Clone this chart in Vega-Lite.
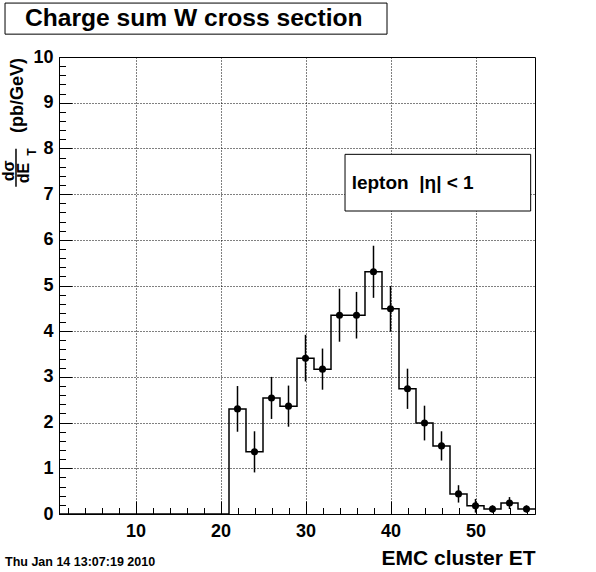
{
  "$schema": "https://vega.github.io/schema/vega-lite/v6.json",
  "width": 476,
  "height": 457,
  "autosize": {"type": "none"},
  "padding": {"left": 59, "top": 57, "right": 61, "bottom": 58},
  "background": "white",
  "config": {"view": {"stroke": "black", "strokeWidth": 1}, "font": "Liberation Sans"},
  "datasets": {
    "hist": [
      {"e": 2, "lo": 1, "hi": 3, "y": 0, "err": 0},
      {"e": 4, "lo": 3, "hi": 5, "y": 0, "err": 0},
      {"e": 6, "lo": 5, "hi": 7, "y": 0, "err": 0},
      {"e": 8, "lo": 7, "hi": 9, "y": 0, "err": 0},
      {"e": 10, "lo": 9, "hi": 11, "y": 0, "err": 0},
      {"e": 12, "lo": 11, "hi": 13, "y": 0, "err": 0},
      {"e": 14, "lo": 13, "hi": 15, "y": 0, "err": 0},
      {"e": 16, "lo": 15, "hi": 17, "y": 0, "err": 0},
      {"e": 18, "lo": 17, "hi": 19, "y": 0, "err": 0},
      {"e": 20, "lo": 19, "hi": 21, "y": 0, "err": 0},
      {"e": 22, "lo": 21, "hi": 23, "y": 2.30, "err": 0.50},
      {"e": 24, "lo": 23, "hi": 25, "y": 1.36, "err": 0.45},
      {"e": 26, "lo": 25, "hi": 27, "y": 2.54, "err": 0.46},
      {"e": 28, "lo": 27, "hi": 29, "y": 2.36, "err": 0.45},
      {"e": 30, "lo": 29, "hi": 31, "y": 3.41, "err": 0.51},
      {"e": 32, "lo": 31, "hi": 33, "y": 3.17, "err": 0.45},
      {"e": 34, "lo": 33, "hi": 35, "y": 4.35, "err": 0.58},
      {"e": 36, "lo": 35, "hi": 37, "y": 4.35, "err": 0.51},
      {"e": 38, "lo": 37, "hi": 39, "y": 5.30, "err": 0.57},
      {"e": 40, "lo": 39, "hi": 41, "y": 4.49, "err": 0.50},
      {"e": 42, "lo": 41, "hi": 43, "y": 2.74, "err": 0.44},
      {"e": 44, "lo": 43, "hi": 45, "y": 1.99, "err": 0.38},
      {"e": 46, "lo": 45, "hi": 47, "y": 1.49, "err": 0.32},
      {"e": 48, "lo": 47, "hi": 49, "y": 0.44, "err": 0.19},
      {"e": 50, "lo": 49, "hi": 51, "y": 0.18, "err": 0.15},
      {"e": 52, "lo": 51, "hi": 53, "y": 0.11, "err": 0.08},
      {"e": 54, "lo": 53, "hi": 55, "y": 0.24, "err": 0.13},
      {"e": 56, "lo": 55, "hi": 57, "y": 0.11, "err": 0.08}
    ]
  },
  "layer": [
    {
      "data": {"name": "hist"},
      "transform": [{"fold": ["lo", "hi"], "as": ["side", "edge"]}],
      "mark": {"type": "line", "color": "black", "strokeWidth": 1.5, "interpolate": "linear"},
      "encoding": {
        "x": {
          "field": "edge", "type": "quantitative", "title": "EMC cluster ET",
          "scale": {"domain": [1, 57], "nice": false, "zero": false},
          "axis": {
            "title": "EMC cluster ET",
            "titleFont": "Liberation Sans", "titleFontWeight": "bold", "titleFontSize": 21, "titleColor": "black",
            "titleAnchor": "end", "titleAlign": "right", "titleBaseline": "alphabetic", "titleY": 50,
            "values": [2,4,6,8,10,12,14,16,18,20,22,24,26,28,30,32,34,36,38,40,42,44,46,48,50,52,54,56],
            "tickCount": 500,
            "labelExpr": "datum.value % 10 === 0 ? format(datum.value, 'd') : ''",
            "tickSize": {"condition": {"test": "datum.value % 10 === 0", "value": -13}, "value": -6.5},
            "gridOpacity": {"condition": {"test": "datum.value % 10 === 0", "value": 1}, "value": 0},
            "grid": true, "gridColor": "black", "gridDash": [1, 2], "gridWidth": 1,
            "domainColor": "black", "tickColor": "black", "tickWidth": 1,
            "labelColor": "black", "labelFont": "Liberation Sans", "labelFontWeight": "bold", "labelFontSize": 18,
            "labelPadding": 21, "labelFlush": false, "labelOverlap": false, "labelBound": false, "zindex": 0
          }
        },
        "y": {
          "field": "y", "type": "quantitative", "title": null,
          "scale": {"domain": [0, 10], "nice": false, "zero": true},
          "axis": {
            "title": null,
            "values": [0,0.2,0.4,0.6,0.8,1,1.2,1.4,1.6,1.8,2,2.2,2.4,2.6,2.8,3,3.2,3.4,3.6,3.8,4,4.2,4.4,4.6,4.8,5,5.2,5.4,5.6,5.8,6,6.2,6.4,6.6,6.8,7,7.2,7.4,7.6,7.8,8,8.2,8.4,8.6,8.8,9,9.2,9.4,9.6,9.8,10],
            "tickCount": 500,
            "labelExpr": "abs(datum.value - round(datum.value)) < 0.001 ? format(datum.value, 'd') : ''",
            "tickSize": {"condition": {"test": "abs(datum.value - round(datum.value)) < 0.001", "value": -13}, "value": -6.5},
            "gridOpacity": {"condition": {"test": "abs(datum.value - round(datum.value)) < 0.001", "value": 1}, "value": 0},
            "grid": true, "gridColor": "black", "gridDash": [1, 2], "gridWidth": 1,
            "domainColor": "black", "tickColor": "black", "tickWidth": 1,
            "labelColor": "black", "labelFont": "Liberation Sans", "labelFontWeight": "bold", "labelFontSize": 18,
            "labelPadding": 19, "labelFlush": false, "labelOverlap": false, "labelBound": false, "zindex": 0
          }
        },
        "order": [
          {"field": "e", "type": "quantitative"},
          {"field": "side", "type": "nominal", "sort": "descending"}
        ]
      }
    },
    {
      "data": {"name": "hist"},
      "transform": [{"filter": "datum.y > 0"}],
      "mark": {"type": "errorbar", "color": "black", "thickness": 1.5},
      "encoding": {
        "x": {"field": "e", "type": "quantitative", "title": "EMC cluster ET"},
        "y": {"field": "y", "type": "quantitative", "title": null},
        "yError": {"field": "err"}
      }
    },
    {
      "data": {"name": "hist"},
      "transform": [{"filter": "datum.y > 0"}],
      "mark": {"type": "point", "shape": "circle", "filled": true, "size": 50, "color": "black", "opacity": 1},
      "encoding": {
        "x": {"field": "e", "type": "quantitative", "title": "EMC cluster ET"},
        "y": {"field": "y", "type": "quantitative", "title": null}
      }
    },
    {
      "data": {"values": [{"label": "lepton  |η| < 1"}]},
      "mark": {"type": "rect", "fill": "white", "stroke": "black", "strokeWidth": 1},
      "encoding": {
        "x": {"datum": 34.65, "type": "quantitative", "title": "EMC cluster ET"},
        "x2": {"datum": 56.49},
        "y": {"datum": 7.87, "type": "quantitative", "title": null},
        "y2": {"datum": 6.63}
      }
    },
    {
      "data": {"values": [{"label": "lepton\u00a0\u00a0|η|\u00a0<\u00a01"}]},
      "mark": {"type": "text", "align": "left", "baseline": "middle", "font": "Liberation Sans", "fontWeight": "bold", "fontSize": 19, "color": "black"},
      "encoding": {
        "x": {"datum": 35.43, "type": "quantitative", "title": "EMC cluster ET"},
        "y": {"datum": 7.24, "type": "quantitative", "title": null},
        "text": {"field": "label"}
      }
    },
    {
      "data": {"values": [{"label": "Charge sum W cross section"}]},
      "mark": {"type": "rect", "fill": "white", "stroke": "black", "strokeWidth": 1},
      "encoding": {
        "x": {"datum": -5.35, "type": "quantitative", "title": "EMC cluster ET"},
        "x2": {"datum": 39.59},
        "y": {"datum": 11.18, "type": "quantitative", "title": null},
        "y2": {"datum": 10.50}
      }
    },
    {
      "data": {"values": [{"label": "Charge sum W cross section"}]},
      "mark": {"type": "text", "align": "left", "baseline": "middle", "font": "Liberation Sans", "fontWeight": "bold", "fontSize": 24.6, "color": "black"},
      "encoding": {
        "x": {"datum": -3.0, "type": "quantitative", "title": "EMC cluster ET"},
        "y": {"datum": 10.84, "type": "quantitative", "title": null},
        "text": {"field": "label"}
      }
    },
    {
      "data": {"values": [{"label": "Thu Jan 14 13:07:19 2010"}]},
      "mark": {"type": "text", "align": "left", "baseline": "middle", "font": "Liberation Sans", "fontWeight": "bold", "fontSize": 12.5, "color": "black"},
      "encoding": {
        "x": {"datum": -5.35, "type": "quantitative", "title": "EMC cluster ET"},
        "y": {"datum": -1.05, "type": "quantitative", "title": null},
        "text": {"field": "label"}
      }
    },
    {
      "data": {"values": [{"label": "(pb/GeV)"}]},
      "mark": {"type": "text", "align": "center", "baseline": "middle", "angle": 270, "font": "Liberation Sans", "fontWeight": "bold", "fontSize": 18, "color": "black"},
      "encoding": {
        "x": {"datum": -3.88, "type": "quantitative", "title": "EMC cluster ET"},
        "y": {"datum": 9.16, "type": "quantitative", "title": null},
        "text": {"field": "label"}
      }
    },
    {
      "data": {"values": [{"label": "dσ"}]},
      "mark": {"type": "text", "align": "center", "baseline": "middle", "angle": 270, "font": "Liberation Sans", "fontWeight": "bold", "fontSize": 16, "color": "black"},
      "encoding": {
        "x": {"datum": -4.88, "type": "quantitative", "title": "EMC cluster ET"},
        "y": {"datum": 7.51, "type": "quantitative", "title": null},
        "text": {"field": "label"}
      }
    },
    {
      "data": {"values": [{"label": "fraction bar"}]},
      "mark": {"type": "rule", "color": "black", "strokeWidth": 1.5},
      "encoding": {
        "x": {"datum": -4.06, "type": "quantitative", "title": "EMC cluster ET"},
        "y": {"datum": 7.99, "type": "quantitative", "title": null},
        "y2": {"datum": 7.16}
      }
    },
    {
      "data": {"values": [{"label": "dE"}]},
      "mark": {"type": "text", "align": "center", "baseline": "middle", "angle": 270, "font": "Liberation Sans", "fontWeight": "bold", "fontSize": 16, "color": "black"},
      "encoding": {
        "x": {"datum": -3.12, "type": "quantitative", "title": "EMC cluster ET"},
        "y": {"datum": 7.46, "type": "quantitative", "title": null},
        "text": {"field": "label"}
      }
    },
    {
      "data": {"values": [{"label": "T"}]},
      "mark": {"type": "text", "align": "center", "baseline": "middle", "angle": 270, "font": "Liberation Sans", "fontWeight": "bold", "fontSize": 12, "color": "black"},
      "encoding": {
        "x": {"datum": -2.18, "type": "quantitative", "title": "EMC cluster ET"},
        "y": {"datum": 7.92, "type": "quantitative", "title": null},
        "text": {"field": "label"}
      }
    }
  ]
}
